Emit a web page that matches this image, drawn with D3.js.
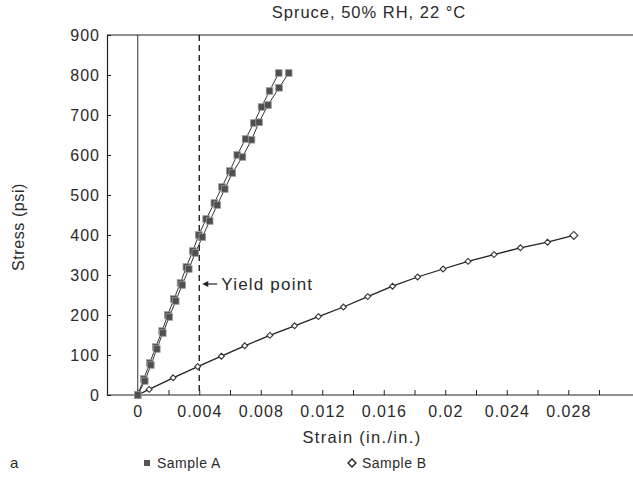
<!DOCTYPE html>
<html>
<head>
<meta charset="utf-8">
<script src="https://cdn.jsdelivr.net/npm/d3@7"></script>
<style>
  body { margin: 0; background: #fff; }
  svg { font-family: 'Liberation Sans', Arial, sans-serif; }
  text { fill: #2a2a2a; }
</style>
</head>
<body>
<svg width="633" height="481"></svg>
<script>
// Sample A, first curve (strain in./in., stress psi)
const a1Strain = [0, 0.00039, 0.00078, 0.00117, 0.00158, 0.00195, 0.00235, 0.00278, 0.00316, 0.00358, 0.00397, 0.00445, 0.00498, 0.00548, 0.00598, 0.00647, 0.00701, 0.00755, 0.00805, 0.00857, 0.00917]
const a1Stress = [0, 40, 80, 120, 160, 200, 240, 280, 320, 360, 400, 440, 480, 520, 560, 600, 640, 680, 720, 760, 805]
// Sample A, second curve
const a2Strain = [0, 0.00046, 0.00085, 0.00124, 0.00163, 0.00205, 0.00247, 0.00289, 0.00332, 0.00374, 0.0042, 0.00468, 0.00517, 0.00566, 0.00615, 0.00681, 0.0074, 0.00789, 0.00847, 0.00919, 0.00982]
const a2Stress = [0, 35, 75, 115, 155, 195, 235, 275, 315, 355, 395, 435, 475, 515, 555, 595, 638, 682, 725, 768, 805]
// Sample B
const bStrain = [0, 0.00074, 0.0023, 0.0039, 0.00544, 0.00696, 0.00859, 0.0102, 0.01175, 0.01338, 0.01496, 0.01657, 0.0182, 0.01986, 0.02148, 0.02317, 0.02489, 0.02665, 0.02836]
const bStress = [0, 14, 43, 71, 97, 123, 149, 173, 196, 220, 246, 272, 295, 315, 334, 351, 368, 382, 399]

const xTickValues = [0, 0.002, 0.004, 0.006, 0.008, 0.01, 0.012, 0.014, 0.016, 0.018, 0.02, 0.022, 0.024, 0.026, 0.028, 0.03]
const xLabelValues = [0, 0.004, 0.008, 0.012, 0.016, 0.02, 0.024, 0.028]
const xLabelText = ['0', '0.004', '0.008', '0.012', '0.016', '0.02', '0.024', '0.028']
const yTickValues = [0, 100, 200, 300, 400, 500, 600, 700, 800, 900]
const yieldStrain = 0.004

const svg = d3.select('svg')
const margin = { top: 35, left: 107, right: 0, bottom: 86 }
const width = +svg.attr('width')
const height = +svg.attr('height')

const xScale = d3.scaleLinear()
  .domain([-0.002, 0.032])
  .range([margin.left, margin.left + 0.034 * 15375])

const yScale = d3.scaleLinear()
  .domain([0, 900])
  .range([height - margin.bottom, margin.top])

const zip = (xs, ys) => xs.map((x, i) => ({ x, y: ys[i] }))
const a1 = zip(a1Strain, a1Stress)
const a2 = zip(a2Strain, a2Stress)
const b = zip(bStrain, bStress)

const y0 = yScale(0)

// frame
svg.append('line')
  .attr('x1', margin.left).attr('x2', width)
  .attr('y1', margin.top).attr('y2', margin.top)
  .attr('stroke', '#222').attr('stroke-width', 1.2)

svg.append('line')
  .attr('x1', xScale(0)).attr('x2', xScale(0))
  .attr('y1', margin.top).attr('y2', y0)
  .attr('stroke', '#333').attr('stroke-width', 1)

// x axis
const xTicks = svg.append('g')
  .attr('transform', `translate(0, ${y0})`)
  .call(d3.axisBottom(xScale).tickValues(xTickValues).tickSize(-5).tickFormat(''))
xTicks.select('.domain').attr('d', `M${margin.left},0H${width}`).attr('stroke', '#222').attr('stroke-width', 1.2)
xTicks.selectAll('.tick line').attr('stroke', '#222')

const xLabels = svg.append('g')
  .attr('transform', `translate(0, ${y0})`)
  .call(d3.axisBottom(xScale).tickValues(xLabelValues).tickSize(0).tickPadding(11)
    .tickFormat((d, i) => xLabelText[i]))
xLabels.select('.domain').remove()
xLabels.selectAll('text').attr('font-size', 16).attr('letter-spacing', 1).attr('fill', '#2a2a2a')

// y axis
const yAxis = svg.append('g')
  .attr('transform', `translate(${margin.left}, 0)`)
  .call(d3.axisLeft(yScale).tickValues(yTickValues).tickSize(-4).tickPadding(7))
yAxis.select('.domain').attr('stroke', '#222').attr('stroke-width', 1.2)
yAxis.selectAll('.tick line').attr('stroke', '#222')
yAxis.selectAll('text').attr('font-size', 16).attr('letter-spacing', 1).attr('fill', '#2a2a2a')

// yield point line
svg.append('line')
  .attr('x1', xScale(yieldStrain)).attr('x2', xScale(yieldStrain))
  .attr('y1', margin.top).attr('y2', y0)
  .attr('stroke', '#111').attr('stroke-width', 1.3)
  .attr('stroke-dasharray', '6,4')

svg.append('line')
  .attr('x1', xScale(yieldStrain) + 18).attr('x2', xScale(yieldStrain) + 5)
  .attr('y1', 284).attr('y2', 284)
  .attr('stroke', '#222').attr('stroke-width', 1.2)
svg.append('path')
  .attr('d', `M${xScale(yieldStrain) + 3},284l6,-3v6z`)
  .attr('fill', '#222')
svg.append('text')
  .attr('x', xScale(yieldStrain) + 22).attr('y', 290)
  .attr('font-size', 17).attr('letter-spacing', 1.2)
  .text('Yield point')

// series
const line = d3.line().x(d => xScale(d.x)).y(d => yScale(d.y))

svg.append('path').datum(b)
  .attr('d', line).attr('fill', 'none').attr('stroke', '#222').attr('stroke-width', 1.3)
svg.append('path').datum(a1)
  .attr('d', line).attr('fill', 'none').attr('stroke', '#333').attr('stroke-width', 1)
svg.append('path').datum(a2)
  .attr('d', line).attr('fill', 'none').attr('stroke', '#333').attr('stroke-width', 1)

const diamond = d3.symbol().type(d3.symbolDiamond2)

svg.append('g').selectAll('path')
  .data(b)
  .join('path')
  .attr('transform', d => `translate(${xScale(d.x)}, ${yScale(d.y)})`)
  .attr('d', (d, i) => diamond.size(i === b.length - 1 ? 40 : 22)())
  .attr('fill', '#fff').attr('stroke', '#333').attr('stroke-width', 1.1)

const drawSquares = data => svg.append('g').selectAll('rect')
  .data(data)
  .join('rect')
  .attr('x', d => xScale(d.x) - 3.3)
  .attr('y', d => yScale(d.y) - 3.3)
  .attr('width', 6.6).attr('height', 6.6)
  .attr('fill', '#4e4e4e').attr('stroke', '#9a9a9a').attr('stroke-width', 0.8)

drawSquares(a1)
drawSquares(a2)

// titles
svg.append('text')
  .attr('x', 369).attr('y', 18)
  .attr('text-anchor', 'middle').attr('font-size', 16.5).attr('letter-spacing', 1)
  .text('Spruce, 50% RH, 22 °C')

svg.append('text')
  .attr('x', 362).attr('y', 443)
  .attr('text-anchor', 'middle').attr('font-size', 16.5).attr('letter-spacing', 1.3)
  .text('Strain  (in./in.)')

svg.append('text')
  .attr('transform', 'rotate(-90)')
  .attr('x', -227).attr('y', 24)
  .attr('text-anchor', 'middle').attr('font-size', 16).attr('letter-spacing', 0.6)
  .text('Stress (psi)')

// legend
svg.append('text').attr('x', 10).attr('y', 468).attr('font-size', 15).text('a')

svg.append('rect')
  .attr('x', 144).attr('y', 460).attr('width', 6).attr('height', 6)
  .attr('fill', '#555')
svg.append('text').attr('x', 157).attr('y', 468).attr('font-size', 14).attr('letter-spacing', 0.5).text('Sample A')

svg.append('path')
  .attr('transform', 'translate(352, 463)')
  .attr('d', diamond.size(40)())
  .attr('fill', '#fff').attr('stroke', '#222').attr('stroke-width', 1.4)
svg.append('text').attr('x', 362).attr('y', 468).attr('font-size', 14).attr('letter-spacing', 0.5).text('Sample B')
</script>
</body>
</html>
